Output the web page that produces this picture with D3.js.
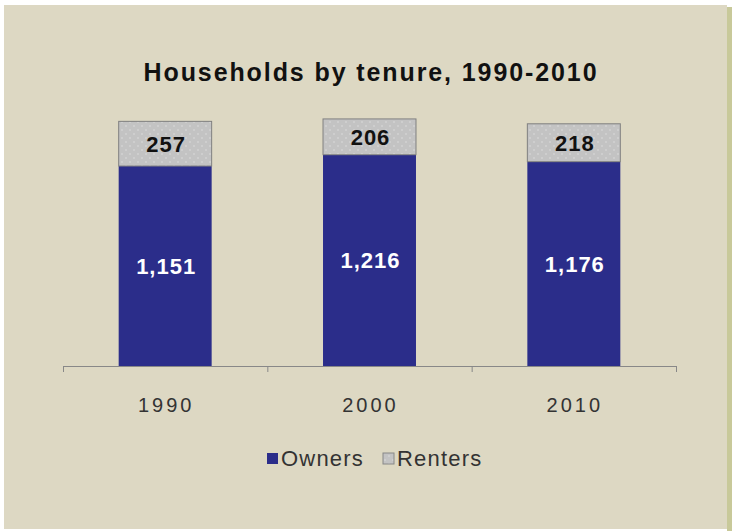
<!DOCTYPE html>
<html>
<head>
<meta charset="utf-8">
<script src="https://cdn.jsdelivr.net/npm/d3@7"></script>
<style>
  body { margin: 0; background: #ffffff; }
  svg { display: block; font-family: "Liberation Sans", Arial, sans-serif; }
</style>
</head>
<body>
<div id="chart"></div>
<script>
// chart data
const years = ["1990", "2000", "2010"];
const owners = [1151, 1216, 1176];
const renters = [257, 206, 218];
const seriesNames = ["Owners", "Renters"];

const width = 732, height = 531;
const svg = d3.select("#chart").append("svg")
  .attr("width", width)
  .attr("height", height);

// dotted fill for renters
const defs = svg.append("defs");
const pat = defs.append("pattern")
  .attr("id", "dots")
  .attr("width", 8).attr("height", 8)
  .attr("patternUnits", "userSpaceOnUse");
pat.append("rect").attr("width", 8).attr("height", 8).attr("fill", "#c3c3c3");
pat.append("circle").attr("cx", 2).attr("cy", 2).attr("r", 0.8).attr("fill", "#dcdcdc");
pat.append("circle").attr("cx", 6).attr("cy", 6).attr("r", 0.8).attr("fill", "#dcdcdc");

// background panel + right shadow strip
svg.append("rect").attr("x", 727).attr("y", 7).attr("width", 5).attr("height", 524).attr("fill", "#c8c99a");
svg.append("rect").attr("x", 4).attr("y", 5).attr("width", 723).attr("height", 524).attr("fill", "#ddd8c3");

// title
svg.append("text")
  .attr("x", 371).attr("y", 81)
  .attr("text-anchor", "middle")
  .style("font-size", "25px")
  .style("font-weight", "bold")
  .style("letter-spacing", "1.9px")
  .attr("fill", "#111")
  .text("Households by tenure, 1990-2010");

const x = d3.scaleBand().domain(years).range([63, 676]).paddingInner(0).paddingOuter(0);
const y = d3.scaleLinear().domain([0, 1600]).range([366, 88]);
const bw = x.bandwidth() * 0.455;

const data = years.map((yr, i) => ({ year: yr, owners: owners[i], renters: renters[i] }));

const g = svg.append("g");
const bars = g.selectAll("g.bar").data(data).enter().append("g").attr("class", "bar");

// owners
bars.append("rect")
  .attr("x", d => x(d.year) + (x.bandwidth() - bw) / 2)
  .attr("y", d => y(d.owners))
  .attr("width", bw)
  .attr("height", d => y(0) - y(d.owners))
  .attr("fill", "#2b2d8a");

// renters
bars.append("rect")
  .attr("x", d => x(d.year) + (x.bandwidth() - bw) / 2)
  .attr("y", d => y(d.owners + d.renters))
  .attr("width", bw)
  .attr("height", d => y(d.owners) - y(d.owners + d.renters))
  .attr("fill", "url(#dots)")
  .attr("stroke", "#808080")
  .attr("stroke-width", 1);

bars.append("text")
  .attr("x", d => x(d.year) + x.bandwidth() / 2 + 1)
  .attr("y", d => (y(d.owners) + y(0)) / 2 + 8)
  .attr("text-anchor", "middle")
  .style("font-size", "22px")
  .style("font-weight", "bold")
  .style("letter-spacing", "1px")
  .attr("fill", "#ffffff")
  .text(d => d3.format(",")(d.owners));

bars.append("text")
  .attr("x", d => x(d.year) + x.bandwidth() / 2 + 1)
  .attr("y", d => (y(d.owners) + y(d.owners + d.renters)) / 2 + 8)
  .attr("text-anchor", "middle")
  .style("font-size", "22px")
  .style("font-weight", "bold")
  .style("letter-spacing", "1px")
  .attr("fill", "#111")
  .text(d => d.renters);

// x axis
const xAxis = svg.append("g").attr("transform", "translate(0,366)");
xAxis.append("line").attr("x1", 63).attr("x2", 676).attr("y1", 0.5).attr("y2", 0.5)
  .attr("stroke", "#888").attr("stroke-width", 1);
const tickPos = years.map(yr => x(yr)).concat([x.range()[1]]);
xAxis.selectAll("line.tick").data(tickPos).enter().append("line")
  .attr("class", "tick")
  .attr("x1", d => d + 0.5).attr("x2", d => d + 0.5)
  .attr("y1", 0).attr("y2", 6)
  .attr("stroke", "#888");
xAxis.selectAll("text").data(years).enter().append("text")
  .attr("x", d => x(d) + x.bandwidth() / 2 + 1)
  .attr("y", 46)
  .attr("text-anchor", "middle")
  .style("font-size", "20px")
  .style("letter-spacing", "3px")
  .attr("fill", "#333")
  .text(d => d);

// legend
const legend = svg.append("g").attr("transform", "translate(267,458)");
const legendFill = ["#2b2d8a", "url(#dots)"];
const legendX = [0, 116];
const lg = legend.selectAll("g").data(seriesNames).enter().append("g")
  .attr("transform", (d, i) => "translate(" + legendX[i] + ",0)");
lg.append("rect")
  .attr("x", 0).attr("y", -5).attr("width", 11).attr("height", 11)
  .attr("fill", (d, i) => legendFill[i])
  .attr("stroke", (d, i) => i === 1 ? "#888" : "none");
lg.append("text")
  .attr("x", 14).attr("y", 8)
  .style("font-size", "22px")
  .style("letter-spacing", "1.2px")
  .attr("fill", "#333")
  .text(d => d);
</script>
</body>
</html>
